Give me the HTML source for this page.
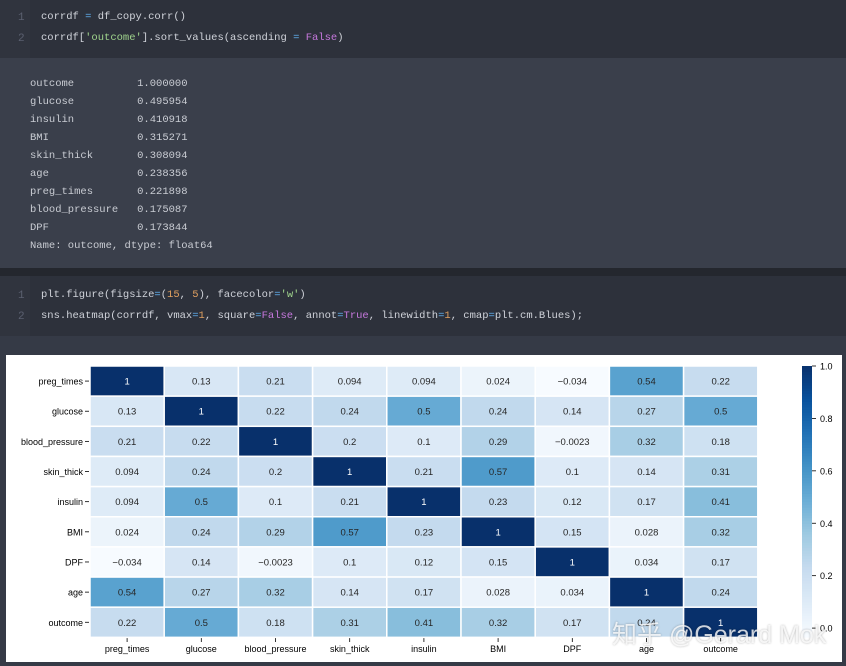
<!DOCTYPE html>
<html><head><meta charset="utf-8">
<style>
body{margin:0;width:846px;height:666px;background:#353a46;overflow:hidden;position:relative;font-family:"Liberation Mono","Noto Sans CJK SC",monospace}
.abs{position:absolute}
.code{background:#2d313b;left:0;width:846px}
.gut{position:absolute;left:0;top:0;width:30px;height:100%;background:#30343e}
.ln{position:absolute;left:18px;color:#5b6070;font-size:11px}
.cl{position:absolute;left:41px;color:#d0d3da;font-size:10.5px;white-space:pre}
.out{position:absolute;left:30px;color:#c9ccd3;font-size:10.5px;white-space:pre;line-height:18px}
.g{color:#9fd38c}.p{color:#c678dd}.o{color:#e0a060}.b{color:#61afef}
svg text{font-family:"Liberation Sans","Noto Sans CJK SC",sans-serif}
</style></head><body>
<div class="abs code" style="top:0;height:58px"><div class="gut"></div>
<div class="ln" style="top:12px">1</div><div class="ln" style="top:33px">2</div>
<div class="cl" style="top:11px">corrdf <span class="b">=</span> df_copy.corr()</div>
<div class="cl" style="top:32px">corrdf[<span class="g">'outcome'</span>].sort_values(ascending <span class="b">=</span> <span class="p">False</span>)</div></div>
<div class="abs" style="top:58px;left:0;width:846px;height:210px;background:#3a3f4b"></div>
<div class="out" style="top:75px">outcome          1.000000
glucose          0.495954
insulin          0.410918
BMI              0.315271
skin_thick       0.308094
age              0.238356
preg_times       0.221898
blood_pressure   0.175087
DPF              0.173844
Name: outcome, dtype: float64</div>
<div class="abs" style="top:268px;left:0;width:846px;height:8px;background:#24272e"></div>
<div class="abs code" style="top:276px;height:60px"><div class="gut"></div>
<div class="ln" style="top:14px">1</div><div class="ln" style="top:35px">2</div>
<div class="cl" style="top:13px">plt.figure(figsize<span class="b">=</span>(<span class="o">15</span>, <span class="o">5</span>), facecolor<span class="b">=</span><span class="g">'w'</span>)</div>
<div class="cl" style="top:34px">sns.heatmap(corrdf, vmax<span class="b">=</span><span class="o">1</span>, square<span class="b">=</span><span class="p">False</span>, annot<span class="b">=</span><span class="p">True</span>, linewidth<span class="b">=</span><span class="o">1</span>, cmap<span class="b">=</span>plt.cm.Blues);</div></div>
<svg class="abs" style="left:0;top:0" width="846" height="666" id="s">
<rect x="6" y="355" width="836" height="307" fill="#fff"/>
</svg>
<div class="abs" style="left:612px;top:615px;font-size:25px;color:rgba(255,255,255,0.8);font-family:'Liberation Sans','Noto Sans CJK SC',sans-serif;white-space:nowrap;text-shadow:0 0 2px rgba(0,0,0,0.3)">知乎 @Gerard Mok</div>
<script>
var names=["preg_times","glucose","blood_pressure","skin_thick","insulin","BMI","DPF","age","outcome"];
var M=[
["1","0.13","0.21","0.094","0.094","0.024","-0.034","0.54","0.22"],
["0.13","1","0.22","0.24","0.5","0.24","0.14","0.27","0.5"],
["0.21","0.22","1","0.2","0.1","0.29","-0.0023","0.32","0.18"],
["0.094","0.24","0.2","1","0.21","0.57","0.1","0.14","0.31"],
["0.094","0.5","0.1","0.21","1","0.23","0.12","0.17","0.41"],
["0.024","0.24","0.29","0.57","0.23","1","0.15","0.028","0.32"],
["-0.034","0.14","-0.0023","0.1","0.12","0.15","1","0.034","0.17"],
["0.54","0.27","0.32","0.14","0.17","0.028","0.034","1","0.24"],
["0.22","0.5","0.18","0.31","0.41","0.32","0.17","0.24","1"]];
var C=["#f7fbff","#deebf7","#c6dbef","#9ecae1","#6baed6","#4292c6","#2171b5","#08519c","#08306b"];
function h(c){return [1,3,5].map(i=>parseInt(c.substr(i,2),16))}
function col(t){t=Math.max(0,Math.min(1,t));var f=t*8,i=Math.min(7,Math.floor(f)),r=f-i,a=h(C[i]),b=h(C[i+1]);
return "rgb("+a.map((v,k)=>Math.round(v+(b[k]-v)*r)).join(",")+")";}
var vmin=-0.034,s="";
var x0=90,y0=366,cw=74.2,ch=30.15;
for(var i=0;i<9;i++){for(var j=0;j<9;j++){var v=parseFloat(M[i][j]),t=(v-vmin)/(1-vmin);
var x=x0+j*cw,y=y0+i*ch;
s+='<rect x="'+x+'" y="'+y+'" width="'+cw+'" height="'+ch+'" fill="'+col(t)+'" stroke="#fff" stroke-width="1.5"/>';
s+='<text x="'+(x+cw/2)+'" y="'+(y+ch/2+3.5)+'" font-size="9.5" text-anchor="middle" fill="'+(t>0.6?"#fff":"#262626")+'">'+M[i][j].replace("-","\u2212")+'</text>';}
var yy=y0+i*ch+ch/2;
s+='<text x="83" y="'+(yy+3.5)+'" font-size="9" text-anchor="end" fill="#000">'+names[i]+'</text><line x1="85" x2="89" y1="'+yy+'" y2="'+yy+'" stroke="#000" stroke-width="0.8"/>';
var xx=x0+i*cw+cw/2;
s+='<text x="'+xx+'" y="652" font-size="9" text-anchor="middle" fill="#000">'+names[i]+'</text><line x1="'+xx+'" x2="'+xx+'" y1="638" y2="642" stroke="#000" stroke-width="0.8"/>';}
var cy0=366,cy1=637;
for(var k=0;k<100;k++){var t=k/100;var y=cy1-(k+1)*(cy1-cy0)/100;
s+='<rect x="802" y="'+y+'" width="10" height="'+((cy1-cy0)/100+0.6)+'" fill="'+col(t)+'"/>';}
[0,0.2,0.4,0.6,0.8,1.0].forEach(function(v){var y=cy1-(v-vmin)/(1-vmin)*(cy1-cy0);
s+='<line x1="812" x2="816" y1="'+y+'" y2="'+y+'" stroke="#000" stroke-width="0.8"/><text x="820" y="'+(y+3.5)+'" font-size="9" fill="#000">'+v.toFixed(1)+'</text>';});
document.getElementById("s").insertAdjacentHTML("beforeend",s);
</script>
</body></html>
